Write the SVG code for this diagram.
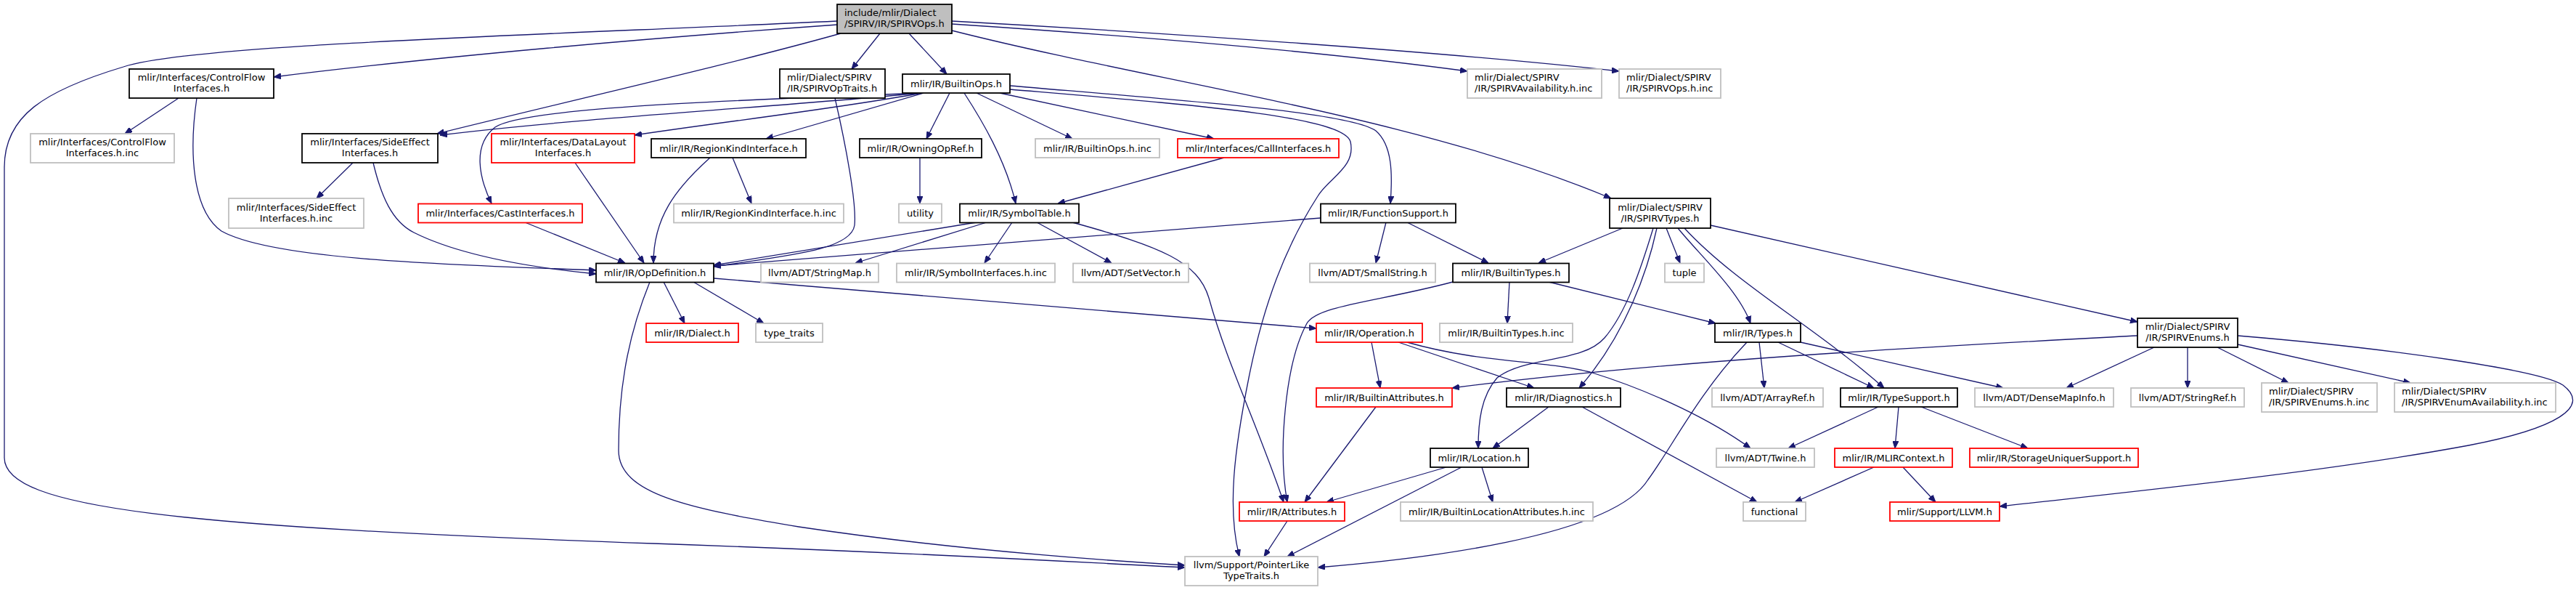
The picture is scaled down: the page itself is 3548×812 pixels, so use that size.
<svg xmlns="http://www.w3.org/2000/svg" width="3548" height="812" viewBox="0 0 3548 812">
<style>
rect{fill:#fff;stroke-width:1.8}
.doc rect{stroke:#000}
.ext rect{stroke:#bfbfbf}
.tr rect{stroke:#ff0000}
.root rect{fill:#bfbfbf;stroke:#000}
text{font-family:"DejaVu Sans",sans-serif;font-size:13px;fill:#000}
.c{text-anchor:middle}
#edges path{fill:none;stroke:#191970;stroke-width:1.3;marker-end:url(#arr)}
</style>
<defs>
<marker id="arr" viewBox="0 0 10 8" refX="10" refY="4" markerWidth="10" markerHeight="8" markerUnits="userSpaceOnUse" orient="auto"><path d="M0,0L10,4L0,8z" fill="#191970" stroke="#191970" stroke-width="1"/></marker>
</defs>
<rect x="0" y="0" width="3548" height="812" style="fill:#fff;stroke:none"/>
<g id="edges">
<path d="M1153,29 C700,50 260,62 170,92 C60,125 6,160 6,230 L6,630 C6,700 250,725 900,748 C1250,760 1450,772 1632,781"/>
<path d="M1153,34 C900,52 600,78 377,106"/>
<path d="M1158,46 C1000,90 800,135 602,184"/>
<path d="M1212,46 L1173,95"/>
<path d="M1252,46 L1304,102"/>
<path d="M1311,29 C1600,45 2000,72 2230,98"/>
<path d="M1311,33 C1600,52 1850,75 2021,98"/>
<path d="M1311,42 C1600,115 1950,160 2219,273"/>
<path d="M1272,128 L1055,191"/>
<path d="M1268,128 C950,140 720,150 682,175 C650,200 660,245 677,280"/>
<path d="M1268,128 C1100,145 800,162 606,186"/>
<path d="M1270,128 C1150,150 1000,167 874,186"/>
<path d="M1308,128 L1276,191"/>
<path d="M1328,128 C1352,165 1385,220 1399,280"/>
<path d="M1345,128 L1477,191"/>
<path d="M1377,128 L1672,191"/>
<path d="M1391,118 C1650,140 1860,155 1895,180 C1918,200 1918,240 1915,280"/>
<path d="M1391,123 C1650,145 1850,160 1860,195 C1868,230 1830,245 1815,270 C1770,340 1740,420 1720,520 C1700,620 1690,700 1707,766"/>
<path d="M1150,135 C1165,200 1180,280 1177,310 C1172,345 1080,352 983,367"/>
<path d="M246,135 L172,184"/>
<path d="M271,135 C260,210 265,290 305,318 C380,360 650,365 821,372"/>
<path d="M486,224 L436,273"/>
<path d="M514,224 C525,270 540,305 570,320 C640,355 750,370 821,377"/>
<path d="M792,224 L887,362"/>
<path d="M723,306 L861,362"/>
<path d="M978,217 C930,260 900,300 900,362"/>
<path d="M1009,217 L1035,280"/>
<path d="M1267,217 L1267,280"/>
<path d="M1686,217 L1457,280"/>
<path d="M1345,306 L983,365"/>
<path d="M1359,306 L1178,362"/>
<path d="M1394,306 L1356,362"/>
<path d="M1428,306 L1531,362"/>
<path d="M1477,306 C1600,340 1650,360 1665,410 C1690,500 1730,580 1768,691"/>
<path d="M1819,300 L983,366"/>
<path d="M1909,306 L1895,362"/>
<path d="M1938,306 L2050,362"/>
<path d="M2235,314 L2119,362"/>
<path d="M2277,314 C2260,370 2240,430 2210,465 C2180,500 2100,490 2062,520 C2040,545 2036,580 2036,617"/>
<path d="M2282,314 C2270,370 2240,460 2175,534"/>
<path d="M2295,314 L2314,362"/>
<path d="M2311,314 C2340,350 2395,400 2411,445"/>
<path d="M2320,314 C2390,390 2500,450 2595,534"/>
<path d="M2356,310 L2944,443"/>
<path d="M2001,388 C1900,415 1815,420 1800,445 C1770,500 1760,620 1773,691"/>
<path d="M2079,388 L2076,445"/>
<path d="M2133,388 L2363,445"/>
<path d="M914,388 L943,445"/>
<path d="M955,388 L1052,445"/>
<path d="M983,383 L1813,452"/>
<path d="M895,388 C870,450 852,520 852,620 C852,680 950,700 1100,725 C1300,755 1500,770 1632,778"/>
<path d="M1889,471 L1901,534"/>
<path d="M1926,471 L2113,534"/>
<path d="M1938,471 C2040,500 2120,495 2190,512 C2280,540 2360,580 2411,617"/>
<path d="M2406,471 C2340,540 2300,620 2270,660 C2220,740 1950,770 1815,781"/>
<path d="M2423,471 L2430,534"/>
<path d="M2449,471 L2581,534"/>
<path d="M2480,471 L2759,534"/>
<path d="M2944,462 C2700,475 2300,495 2000,534"/>
<path d="M2967,478 L2846,534"/>
<path d="M3013,478 L3013,534"/>
<path d="M3054,478 L3152,527"/>
<path d="M3082,474 L3320,527"/>
<path d="M3082,462 C3300,480 3500,510 3530,530 C3570,560 3520,590 3400,613 C3200,650 2950,675 2754,697"/>
<path d="M1895,560 L1797,691"/>
<path d="M2133,560 L2056,617"/>
<path d="M2179,560 L2420,691"/>
<path d="M2587,560 L2463,617"/>
<path d="M2615,560 L2610,617"/>
<path d="M2646,560 L2793,617"/>
<path d="M1992,643 L1827,691"/>
<path d="M2013,643 L1773,766"/>
<path d="M2041,643 L2056,691"/>
<path d="M2581,643 L2472,691"/>
<path d="M2621,643 L2666,691"/>
<path d="M1773,717 L1741,766"/>
</g>
<g id="n_root" class="root"><rect x="1153" y="6" width="158" height="40"/><text x="1163" y="22">include/mlir/Dialect</text><text x="1163" y="37">/SPIRV/IR/SPIRVOps.h</text></g>
<g id="n_controlflow" class="doc"><rect x="178" y="95" width="199" height="40"/><text class="c" x="277.5" y="111">mlir/Interfaces/ControlFlow</text><text class="c" x="277.5" y="126">Interfaces.h</text></g>
<g id="n_optraits" class="doc"><rect x="1074" y="95" width="145" height="40"/><text x="1084" y="111">mlir/Dialect/SPIRV</text><text x="1084" y="126">/IR/SPIRVOpTraits.h</text></g>
<g id="n_builtinops" class="doc"><rect x="1243" y="102" width="148" height="26"/><text class="c" x="1317" y="119.5">mlir/IR/BuiltinOps.h</text></g>
<g id="n_spirvavailinc" class="ext"><rect x="2021" y="95" width="185" height="40"/><text x="2031" y="111">mlir/Dialect/SPIRV</text><text x="2031" y="126">/IR/SPIRVAvailability.h.inc</text></g>
<g id="n_spirvopsinc" class="ext"><rect x="2230" y="95" width="140" height="40"/><text x="2240" y="111">mlir/Dialect/SPIRV</text><text x="2240" y="126">/IR/SPIRVOps.h.inc</text></g>
<g id="n_controlflowinc" class="ext"><rect x="42" y="184" width="198" height="40"/><text class="c" x="141" y="200">mlir/Interfaces/ControlFlow</text><text class="c" x="141" y="215">Interfaces.h.inc</text></g>
<g id="n_sideeffect" class="doc"><rect x="416" y="184" width="187" height="40"/><text class="c" x="509.5" y="200">mlir/Interfaces/SideEffect</text><text class="c" x="509.5" y="215">Interfaces.h</text></g>
<g id="n_datalayout" class="tr"><rect x="677" y="184" width="197" height="40"/><text class="c" x="775.5" y="200">mlir/Interfaces/DataLayout</text><text class="c" x="775.5" y="215">Interfaces.h</text></g>
<g id="n_regionkind" class="doc"><rect x="897" y="191" width="213" height="26"/><text class="c" x="1003.5" y="208.5">mlir/IR/RegionKindInterface.h</text></g>
<g id="n_owningopref" class="doc"><rect x="1184" y="191" width="168" height="26"/><text class="c" x="1268" y="208.5">mlir/IR/OwningOpRef.h</text></g>
<g id="n_builtinopsinc" class="ext"><rect x="1426" y="191" width="171" height="26"/><text class="c" x="1511.5" y="208.5">mlir/IR/BuiltinOps.h.inc</text></g>
<g id="n_callinterfaces" class="tr"><rect x="1622" y="191" width="222" height="26"/><text class="c" x="1733" y="208.5">mlir/Interfaces/CallInterfaces.h</text></g>
<g id="n_sideeffectinc" class="ext"><rect x="315" y="273" width="186" height="41"/><text class="c" x="408" y="290">mlir/Interfaces/SideEffect</text><text class="c" x="408" y="305">Interfaces.h.inc</text></g>
<g id="n_castinterfaces" class="tr"><rect x="576" y="280.5" width="226" height="26"/><text class="c" x="689" y="298">mlir/Interfaces/CastInterfaces.h</text></g>
<g id="n_regionkindinc" class="ext"><rect x="928" y="280.5" width="234" height="26"/><text class="c" x="1045" y="298">mlir/IR/RegionKindInterface.h.inc</text></g>
<g id="n_utility" class="ext"><rect x="1238" y="280.5" width="59" height="26"/><text class="c" x="1267.5" y="298">utility</text></g>
<g id="n_symboltable" class="doc"><rect x="1322" y="280.5" width="164" height="26"/><text class="c" x="1404" y="298">mlir/IR/SymbolTable.h</text></g>
<g id="n_functionsupport" class="doc"><rect x="1819" y="280.5" width="186" height="26"/><text class="c" x="1912" y="298">mlir/IR/FunctionSupport.h</text></g>
<g id="n_spirvtypes" class="doc"><rect x="2217" y="273" width="139" height="41"/><text class="c" x="2286.5" y="290">mlir/Dialect/SPIRV</text><text class="c" x="2286.5" y="305">/IR/SPIRVTypes.h</text></g>
<g id="n_opdefinition" class="doc"><rect x="821" y="362.5" width="162" height="26"/><text class="c" x="902" y="380">mlir/IR/OpDefinition.h</text></g>
<g id="n_stringmap" class="ext"><rect x="1048" y="362.5" width="162" height="26"/><text class="c" x="1129" y="380">llvm/ADT/StringMap.h</text></g>
<g id="n_symbolinterfacesinc" class="ext"><rect x="1235" y="362.5" width="218" height="26"/><text class="c" x="1344" y="380">mlir/IR/SymbolInterfaces.h.inc</text></g>
<g id="n_setvector" class="ext"><rect x="1478" y="362.5" width="159" height="26"/><text class="c" x="1557.5" y="380">llvm/ADT/SetVector.h</text></g>
<g id="n_smallstring" class="ext"><rect x="1804" y="362.5" width="173" height="26"/><text class="c" x="1890.5" y="380">llvm/ADT/SmallString.h</text></g>
<g id="n_builtintypes" class="doc"><rect x="2001" y="362.5" width="160" height="26"/><text class="c" x="2081" y="380">mlir/IR/BuiltinTypes.h</text></g>
<g id="n_tuple" class="ext"><rect x="2293" y="362.5" width="54" height="26"/><text class="c" x="2320" y="380">tuple</text></g>
<g id="n_dialect" class="tr"><rect x="890" y="445" width="127" height="26"/><text class="c" x="953.5" y="462.5">mlir/IR/Dialect.h</text></g>
<g id="n_typetraits" class="ext"><rect x="1041" y="445" width="92" height="26"/><text class="c" x="1087" y="462.5">type_traits</text></g>
<g id="n_operation" class="tr"><rect x="1813" y="445" width="146" height="26"/><text class="c" x="1886" y="462.5">mlir/IR/Operation.h</text></g>
<g id="n_builtintypesinc" class="ext"><rect x="1983" y="445" width="183" height="26"/><text class="c" x="2074.5" y="462.5">mlir/IR/BuiltinTypes.h.inc</text></g>
<g id="n_types" class="doc"><rect x="2362" y="445" width="118" height="26"/><text class="c" x="2421" y="462.5">mlir/IR/Types.h</text></g>
<g id="n_spirvenums" class="doc"><rect x="2944" y="438" width="138" height="40"/><text class="c" x="3013" y="454">mlir/Dialect/SPIRV</text><text class="c" x="3013" y="469">/IR/SPIRVEnums.h</text></g>
<g id="n_builtinattributes" class="tr"><rect x="1813" y="534" width="187" height="26"/><text class="c" x="1906.5" y="551.5">mlir/IR/BuiltinAttributes.h</text></g>
<g id="n_diagnostics" class="doc"><rect x="2075" y="534" width="157" height="26"/><text class="c" x="2153.5" y="551.5">mlir/IR/Diagnostics.h</text></g>
<g id="n_arrayref" class="ext"><rect x="2358" y="534" width="153" height="26"/><text class="c" x="2434.5" y="551.5">llvm/ADT/ArrayRef.h</text></g>
<g id="n_typesupport" class="doc"><rect x="2535" y="534" width="161" height="26"/><text class="c" x="2615.5" y="551.5">mlir/IR/TypeSupport.h</text></g>
<g id="n_densemapinfo" class="ext"><rect x="2720" y="534" width="191" height="26"/><text class="c" x="2815.5" y="551.5">llvm/ADT/DenseMapInfo.h</text></g>
<g id="n_stringref" class="ext"><rect x="2935" y="534" width="156" height="26"/><text class="c" x="3013" y="551.5">llvm/ADT/StringRef.h</text></g>
<g id="n_spirvenumsinc" class="ext"><rect x="3115" y="527" width="159" height="40"/><text x="3125" y="543">mlir/Dialect/SPIRV</text><text x="3125" y="558">/IR/SPIRVEnums.h.inc</text></g>
<g id="n_spirvenumavailinc" class="ext"><rect x="3298" y="527" width="222" height="40"/><text x="3308" y="543">mlir/Dialect/SPIRV</text><text x="3308" y="558">/IR/SPIRVEnumAvailability.h.inc</text></g>
<g id="n_location" class="doc"><rect x="1970" y="617" width="135" height="26"/><text class="c" x="2037.5" y="634.5">mlir/IR/Location.h</text></g>
<g id="n_twine" class="ext"><rect x="2364" y="617" width="135" height="26"/><text class="c" x="2431.5" y="634.5">llvm/ADT/Twine.h</text></g>
<g id="n_mlircontext" class="tr"><rect x="2527" y="617" width="162" height="26"/><text class="c" x="2608" y="634.5">mlir/IR/MLIRContext.h</text></g>
<g id="n_storageuniquer" class="tr"><rect x="2713" y="617" width="232" height="26"/><text class="c" x="2829" y="634.5">mlir/IR/StorageUniquerSupport.h</text></g>
<g id="n_attributes" class="tr"><rect x="1707" y="691" width="145" height="26"/><text class="c" x="1779.5" y="708.5">mlir/IR/Attributes.h</text></g>
<g id="n_builtinlocattrinc" class="ext"><rect x="1929" y="691" width="265" height="26"/><text class="c" x="2061.5" y="708.5">mlir/IR/BuiltinLocationAttributes.h.inc</text></g>
<g id="n_functional" class="ext"><rect x="2401" y="691" width="86" height="26"/><text class="c" x="2444" y="708.5">functional</text></g>
<g id="n_llvm" class="tr"><rect x="2603" y="691" width="151" height="26"/><text class="c" x="2678.5" y="708.5">mlir/Support/LLVM.h</text></g>
<g id="n_pointerlike" class="ext"><rect x="1632" y="766" width="183" height="40"/><text class="c" x="1723.5" y="782">llvm/Support/PointerLike</text><text class="c" x="1723.5" y="797">TypeTraits.h</text></g>
</svg>
